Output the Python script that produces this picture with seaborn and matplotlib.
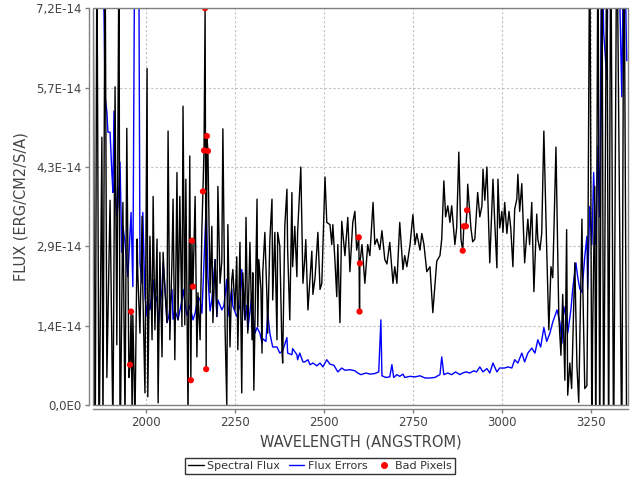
import numpy as np
import matplotlib
matplotlib.use('Agg')
import matplotlib.pyplot as plt
from matplotlib.lines import Line2D
from matplotlib.patches import Rectangle
from matplotlib.ticker import FixedLocator, FuncFormatter
import seaborn as sns

# Spectrum: wavelength (Angstrom), flux in units of 1e-14 erg/cm2/s/A
flux_wave = [1851, 1857, 1862, 1868, 1876, 1879, 1885, 1890, 1899, 1907,
             1913, 1918, 1924, 1927, 1935, 1941, 1946, 1952, 1955, 1958,
             1961, 1963, 1969, 1975, 1977, 1983, 1989, 1991, 1997, 2003,
             2005, 2011, 2017, 2020, 2025, 2031, 2034, 2039, 2045, 2048,
             2053, 2059, 2062, 2067, 2073, 2076, 2081, 2087, 2090, 2095,
             2101, 2104, 2109, 2112, 2118, 2123, 2126, 2129, 2132, 2138,
             2143, 2146, 2152, 2157, 2160, 2163, 2166, 2169, 2171, 2174,
             2180, 2185, 2188, 2194, 2199, 2202, 2208, 2213, 2216, 2222,
             2227, 2230, 2236, 2241, 2244, 2250, 2255, 2258, 2264, 2269,
             2272, 2278, 2281, 2286, 2292, 2298, 2300, 2303, 2312, 2314,
             2317, 2323, 2326, 2328, 2334, 2340, 2342, 2348, 2354, 2356,
             2362, 2368, 2370, 2376, 2382, 2384, 2390, 2396, 2398, 2404,
             2410, 2412, 2418, 2424, 2426, 2435, 2441, 2446, 2449, 2455,
             2466, 2469, 2475, 2483, 2489, 2494, 2503, 2508, 2517, 2522,
             2525, 2531, 2536, 2539, 2545, 2550, 2559, 2567, 2573, 2581,
             2587, 2592, 2598, 2600, 2601, 2607, 2615, 2623, 2629, 2638,
             2643, 2649, 2657, 2663, 2671, 2677, 2685, 2694, 2699, 2705,
             2713, 2722, 2727, 2733, 2742, 2750, 2756, 2761, 2770, 2775,
             2781, 2789, 2798, 2806, 2817, 2826, 2831, 2837, 2842, 2848,
             2854, 2859, 2868, 2873, 2879, 2885, 2890, 2893, 2899, 2902,
             2904, 2913, 2918, 2924, 2932, 2938, 2944, 2947, 2952, 2958,
             2966, 2975, 2980, 2986, 2989, 2994, 3000, 3003, 3008, 3014,
             3020, 3025, 3031, 3036, 3042, 3045, 3050, 3056, 3064, 3073,
             3078, 3084, 3090, 3098, 3101, 3107, 3112, 3118, 3126, 3132,
             3138, 3143, 3152, 3160, 3166, 3171, 3177, 3182, 3185, 3191,
             3196, 3205, 3211, 3216, 3225, 3227, 3233, 3239, 3241, 3247,
             3253, 3255, 3261, 3264, 3270, 3275, 3281, 3286, 3295, 3300,
             3306, 3314, 3323, 3337, 3343, 3351]
flux_vals = [8.5, -1.5, 8.5, -1.0, 4.84, -0.5, 8.5, 0.5, 3.70, -0.5,
             5.75, 1.09, 8.5, -1.0, 3.66, -0.3, 5.00, 0.50, 0.73, 1.69,
             -0.2, 1.63, -0.3, 3.00, 2.36, 1.30, 3.41, 2.09, 0.22, 6.08,
             0.15, 3.05, 1.18, 3.77, 1.36, 3.00, 0.04, 2.76, 0.87, 2.76,
             2.09, 1.49, 4.95, 1.18, 2.63, 3.72, 0.82, 4.20, 1.54, 3.77,
             1.42, 5.40, 1.45, 4.08, -0.2, 4.50, 0.45, 2.97, 2.14, 3.77,
             0.87, 2.03, 1.18, 3.17, 3.86, 4.60, 7.17, 0.65, 4.86, 4.59,
             2.03, 3.23, 1.49, 2.63, 1.60, 3.95, 2.20, 2.60, 4.99, 1.42,
             0.00, 3.26, 1.05, 2.27, 2.45, 1.72, 2.68, 1.00, 2.94, 0.22,
             2.39, 1.54, 3.39, 1.30, 2.94, 1.18, 2.39, 0.27, 3.72, 1.42,
             2.63, 2.09, 0.94, 2.39, 3.12, 1.90, 1.30, 2.99, 3.72, 1.90,
             3.12, 1.18, 3.12, 2.87, 1.00, 0.76, 3.23, 3.90, 2.81, 1.54,
             3.84, 2.50, 3.23, 2.32, 3.12, 4.30, 2.20, 2.63, 2.99, 1.72,
             2.78, 2.00, 2.30, 3.12, 2.09, 2.20, 4.12, 3.30, 3.26, 2.90,
             3.26, 2.60, 1.96, 2.90, 1.49, 3.32, 2.70, 3.39, 2.41, 3.30,
             3.50, 2.80, 3.03, 1.69, 2.56, 2.90, 2.20, 2.90, 2.70, 3.66,
             2.90, 3.00, 2.81, 3.15, 2.63, 2.55, 2.94, 2.20, 2.50, 2.20,
             3.30, 2.45, 2.70, 2.50, 2.90, 3.44, 2.90, 3.10, 2.80, 3.10,
             2.90, 2.41, 2.50, 1.67, 2.60, 2.70, 3.00, 4.05, 3.40, 3.60,
             3.30, 3.60, 2.90, 3.20, 4.57, 3.00, 2.79, 3.23, 3.23, 3.52,
             3.99, 3.20, 2.95, 3.00, 3.84, 3.40, 3.60, 4.26, 3.70, 4.30,
             2.57, 4.08, 3.30, 2.48, 4.08, 3.20, 3.50, 3.12, 3.66, 3.10,
             3.50, 3.20, 2.50, 3.54, 3.72, 4.17, 3.50, 4.00, 2.57, 3.36,
             2.90, 3.66, 2.05, 3.45, 3.00, 2.80, 3.10, 4.95, 2.81, 1.36,
             2.50, 2.30, 4.66, 1.60, 0.90, 2.00, 0.45, 3.17, 0.18, 0.76,
             0.30, 2.57, 0.70, 0.05, 3.36, 2.30, 0.30, 0.35, 1.80, 9.0,
             -1.0, 1.30, 3.95, -1.0, 9.0, -1.0, 9.0, -1.0, 9.0, -1.0,
             9.0, -1.0, 9.0, -1.0, 9.0, -1.0]

err_wave = [1862, 1876, 1882, 1885, 1890, 1893, 1899, 1904, 1907, 1910,
            1913, 1918, 1921, 1927, 1932, 1935, 1941, 1949, 1958, 1963,
            1969, 1979, 1983, 1989, 1991, 1997, 2003, 2005, 2011,
            2017, 2020, 2025, 2031, 2034, 2039, 2045, 2048, 2053, 2059,
            2064, 2073, 2076, 2081, 2090, 2101, 2104, 2115, 2123, 2132,
            2138, 2146, 2152, 2157, 2160, 2169, 2174, 2180, 2185, 2194,
            2199, 2202, 2213, 2219, 2227, 2230, 2241, 2244, 2255, 2264,
            2269, 2272, 2278, 2283, 2286, 2298, 2300, 2306, 2312, 2320,
            2326, 2328, 2337, 2342, 2348, 2356, 2368, 2376, 2384, 2396,
            2398, 2410, 2412, 2424, 2426, 2432, 2441, 2446, 2455, 2461,
            2469, 2480, 2489, 2497, 2508, 2517, 2528, 2539, 2550, 2559,
            2573, 2587, 2595, 2604, 2618, 2629, 2643, 2654, 2660, 2663,
            2674, 2685, 2691, 2696, 2705, 2713, 2722, 2727, 2742, 2756,
            2770, 2784, 2798, 2812, 2820, 2826, 2831, 2837, 2848, 2859,
            2870, 2882, 2890, 2899, 2910, 2921, 2929, 2938, 2947, 2958,
            2966, 2975, 2986, 2994, 3008, 3017, 3028, 3036, 3045, 3056,
            3064, 3073, 3084, 3093, 3101, 3109, 3118, 3126, 3135, 3143,
            3155, 3163, 3169, 3174, 3180, 3185, 3194, 3199, 3208, 3213,
            3219, 3225, 3233, 3239, 3241, 3247, 3253, 3258, 3264, 3270,
            3275, 3281, 3286, 3295, 3300, 3312, 3326, 3337, 3343, 3351]
err_vals = [9.0, 9.0, 7.04, 5.57, 5.30, 4.93, 4.93, 4.20, 3.84, 5.31,
            4.03, 3.41, 3.60, 4.39, 2.76, 3.23, 2.94, 2.32, 3.48, 2.14,
            9.5, 9.5, 2.57, 2.20, 3.48, 1.96, 1.60, 1.90, 1.72,
            2.09, 2.27, 1.85, 1.96, 1.42, 1.80, 2.09, 2.57, 2.15, 1.49,
            1.60, 2.09, 1.55, 1.72, 1.54, 1.90, 2.09, 1.62, 1.80, 1.54,
            1.66, 1.96, 1.90, 1.66, 2.10, 3.59, 2.32, 1.70, 1.90, 2.63,
            1.60, 1.90, 1.72, 1.80, 2.27, 1.60, 2.10, 1.79, 1.60, 1.80,
            2.45, 2.00, 1.54, 1.80, 1.36, 2.02, 1.70, 1.30, 1.40, 1.30,
            1.12, 1.20, 1.15, 1.66, 1.30, 1.05, 1.05, 0.94, 0.98, 1.22,
            0.94, 0.91, 1.02, 0.91, 0.82, 0.94, 0.78, 0.78, 0.82, 0.73,
            0.76, 0.71, 0.76, 0.69, 0.82, 0.74, 0.72, 0.60, 0.67, 0.63,
            0.64, 0.62, 0.58, 0.55, 0.58, 0.56, 0.57, 0.60, 1.54, 0.53,
            0.50, 0.51, 0.73, 0.50, 0.55, 0.52, 0.56, 0.50, 0.52, 0.51,
            0.53, 0.49, 0.49, 0.50, 0.53, 0.55, 0.87, 0.55, 0.58, 0.55,
            0.60, 0.55, 0.58, 0.60, 0.58, 0.62, 0.60, 0.69, 0.60, 0.66,
            0.58, 0.76, 0.60, 0.67, 0.67, 0.69, 0.67, 0.82, 0.76, 0.94,
            0.78, 0.94, 1.03, 0.94, 1.18, 1.05, 1.40, 1.15, 1.30, 1.50,
            1.72, 1.50, 1.12, 1.78, 1.60, 1.30, 1.72, 2.09, 2.57, 2.32,
            2.10, 2.04, 2.68, 3.05, 2.10, 3.59, 2.90, 4.20, 2.90, 4.68,
            3.40, 9.0, 6.74, 5.89, 9.0, 9.0, 9.0, 5.57, 9.0, 6.22]

bad_wave = [1955, 1958, 2126, 2129, 2132, 2160, 2163, 2166, 2169, 2171,
            2174, 2598, 2600, 2601, 2890, 2893, 2899, 2902]
bad_vals = [0.73, 1.69, 0.45, 2.97, 2.14, 3.86, 4.60, 7.17, 0.65, 4.86,
            4.59, 3.03, 1.69, 2.56, 2.79, 3.23, 3.23, 3.52]

UNIT = 1e-14
YMAX = 7.17e-14
XTICKS = [2000, 2250, 2500, 2750, 3000, 3250]

sns.set_theme(style='white')
plt.rcParams['font.family'] = ['DejaVu Sans']

fig, ax = plt.subplots(figsize=(6.4, 4.8), dpi=100)
fig.subplots_adjust(left=0.1453, right=0.981, top=0.983, bottom=0.156)

# errors under the flux, bad pixels on top
sns.lineplot(x=err_wave, y=np.array(err_vals) * UNIT, ax=ax, color='#0000ff',
             lw=1.0, sort=False, estimator=None, zorder=2)
sns.lineplot(x=flux_wave, y=np.array(flux_vals) * UNIT, ax=ax, color='black',
             lw=1.0, sort=False, estimator=None, zorder=3)
sns.scatterplot(x=bad_wave, y=np.array(bad_vals) * UNIT, ax=ax, color='#ff0000',
                s=20, edgecolor='none', zorder=4)

ax.set_xlim(1851, 3354)
ax.set_ylim(0, YMAX)
ax.xaxis.set_major_locator(FixedLocator(XTICKS))
ax.yaxis.set_major_locator(FixedLocator(np.linspace(0, YMAX, 6)))


def sci_comma(v, pos):
    if v == 0:
        return '0,0E0'
    e = int(np.floor(np.log10(abs(v))))
    return ('%.1fE%d' % (v / 10 ** e, e)).replace('.', ',')


ax.yaxis.set_major_formatter(FuncFormatter(sci_comma))
ax.xaxis.set_major_formatter(FuncFormatter(lambda v, p: '%d' % v))

ax.grid(True, color='#c0c0c0', linestyle=(0, (2, 2)), lw=0.8)
ax.set_axisbelow(True)

# axis lines sit a little outside the plot outline, like the original
for side in ['top', 'right']:
    ax.spines[side].set_visible(False)
for side in ['left', 'bottom']:
    ax.spines[side].set_position(('outward', 3))
    ax.spines[side].set_color('#808080')
    ax.spines[side].set_linewidth(1.0)
ax.add_patch(Rectangle((0, 0), 1, 1, transform=ax.transAxes, fill=False,
                       edgecolor='#808080', lw=1.0, zorder=5, clip_on=False))

ax.tick_params(axis='both', direction='out', length=3, width=1, color='#808080',
               labelcolor='#444444', labelsize=8.5, pad=2, bottom=True, left=True)

ax.set_xlabel('WAVELENGTH (ANGSTROM)', fontsize=10.5, color='#444444', labelpad=4)
ax.set_ylabel('FLUX (ERG/CM2/S/A)', fontsize=10.5, color='#444444', labelpad=6)

handles = [Line2D([0], [0], color='black', lw=1),
           Line2D([0], [0], color='#0000ff', lw=1),
           Line2D([0], [0], color='#ff0000', marker='o', linestyle='none', markersize=4)]
leg = fig.legend(handles, ['Spectral Flux', 'Flux Errors', 'Bad Pixels'],
                 loc='center', bbox_to_anchor=(320 / 640, 1 - 466 / 480), ncol=3,
                 frameon=True, fancybox=False, edgecolor='black', fontsize=8,
                 handlelength=1.4, handletextpad=0.3, columnspacing=0.8,
                 borderpad=0.3, labelcolor='#333333')
leg.get_frame().set_linewidth(1.0)

fig.savefig('out.png', dpi=100, facecolor='white')
